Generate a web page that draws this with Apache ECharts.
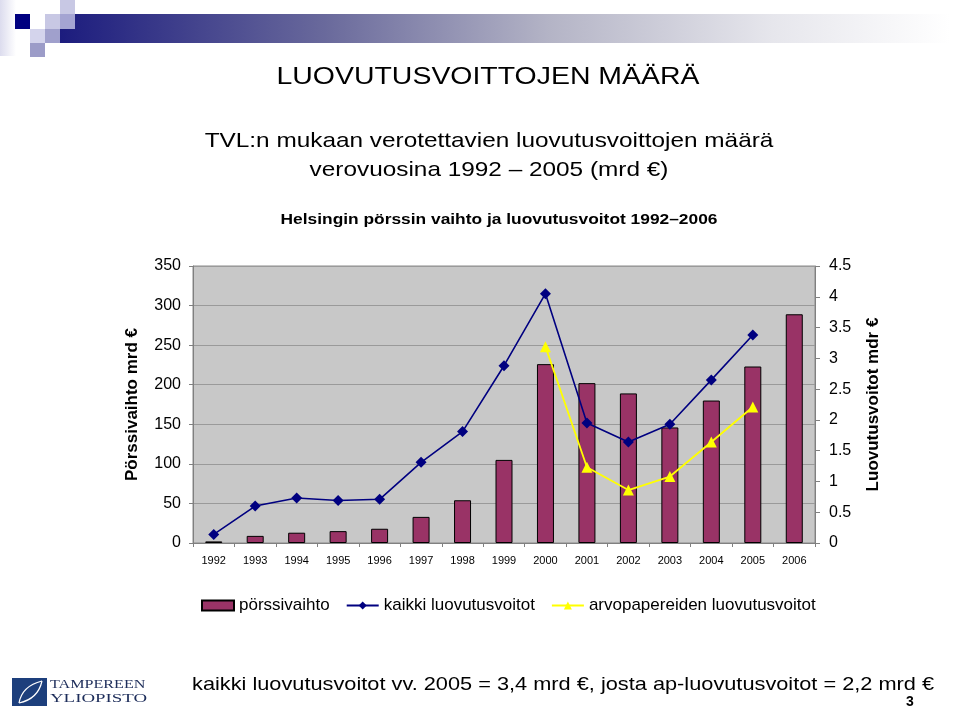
<!DOCTYPE html>
<html>
<head>
<meta charset="utf-8">
<script src="https://cdn.jsdelivr.net/npm/echarts@6/dist/echarts.min.js"></script>
<style>html,body{margin:0;padding:0;background:#fff;}#c{width:960px;height:708px;}</style>
</head>
<body>
<div id="c"></div>
<script>
const years = ['1992','1993','1994','1995','1996','1997','1998','1999','2000','2001','2002','2003','2004','2005','2006'];
const porssivaihto = [2, 9, 13, 15, 18, 33, 54, 105, 226, 202, 189, 146, 180, 223, 289];
const kaikkiLuovutusvoitot = [0.14, 0.60, 0.73, 0.69, 0.71, 1.31, 1.81, 2.88, 4.05, 1.95, 1.64, 1.93, 2.65, 3.38, null];
const arvopapereidenLuovutusvoitot = [null, null, null, null, null, null, null, null, 3.19, 1.23, 0.86, 1.08, 1.64, 2.21, null];
const leftAxis = {min: 0, max: 350, interval: 50};
const rightAxis = {min: 0, max: 4.5, interval: 0.5};

const FONT = 'Liberation Sans, Arial, sans-serif';
function txt(text, x, y, size, opts) {
  opts = opts || {};
  return {
    type: 'text', x: x, y: y, scaleX: opts.scaleX || 1, z: 10,
    style: {
      text: text, fontSize: size, fontFamily: opts.family || FONT,
      fontWeight: opts.weight || 'normal', fill: opts.fill || '#000',
      align: opts.align || 'center', verticalAlign: 'middle',
      textAlign: opts.align || 'center', textVerticalAlign: 'middle'
    }
  };
}
function sq(x, y, w, h, c) {
  return {type: 'rect', shape: {x: x, y: y, width: w, height: h}, style: {fill: c}, z: 5};
}

const chart = echarts.init(document.getElementById('c'));
chart.setOption({
  animation: false,
  backgroundColor: '#fff',
  textStyle: {fontFamily: FONT},
  graphic: {elements: [
    {type: 'rect', shape: {x: 60, y: 14, width: 890, height: 29}, z: 1,
      style: {fill: new echarts.graphic.LinearGradient(0, 0, 1, 0, [
        {offset: 0, color: '#1c1c7e'}, {offset: 0.3, color: '#6a6a9c'},
        {offset: 0.55, color: '#b4b4c6'}, {offset: 0.8, color: '#e6e6ec'}, {offset: 1, color: '#ffffff'}])}},
    {type: 'rect', shape: {x: 0, y: 0, width: 16, height: 56}, z: 2,
      style: {fill: new echarts.graphic.LinearGradient(0, 0, 1, 0, [
        {offset: 0, color: '#dcdcee'}, {offset: 1, color: '#ffffff'}])}},
    sq(15, 14, 15, 15, '#000080'),
    sq(45, 14, 15, 15, '#c8c8e4'),
    sq(60, 0, 15, 14, '#c8c8e4'),
    sq(60, 14, 15, 15, '#a4a4d2'),
    sq(30, 29, 15, 14, '#d4d4ec'),
    sq(45, 29, 15, 14, '#a0a0cc'),
    sq(30, 43, 15, 14, '#9c9cc8'),
    txt('LUOVUTUSVOITTOJEN MÄÄRÄ', 488, 77, 24, {scaleX: 1.185}),
    txt('TVL:n mukaan verotettavien luovutusvoittojen määrä', 489, 141, 21, {scaleX: 1.16}),
    txt('verovuosina 1992 – 2005 (mrd €)', 489, 170, 21, {scaleX: 1.16}),
    txt('Helsingin pörssin vaihto ja luovutusvoitot 1992–2006', 499, 220, 15, {scaleX: 1.157, weight: 'bold'}),
    txt('kaikki luovutusvoitot vv. 2005 = 3,4 mrd €, josta ap-luovutusvoitot = 2,2 mrd €', 192, 685, 19, {scaleX: 1.145, align: 'left'}),
    txt('3', 910, 702, 14, {weight: 'bold'}),
    sq(12, 678, 35, 28, '#1d3f7c'),
    {type: 'bezierCurve', z: 6, shape: {x1: 19, y1: 703, x2: 42, y2: 681, cpx1: 22, cpy1: 686},
      style: {stroke: '#fff', lineWidth: 1.2, fill: null}},
    {type: 'bezierCurve', z: 6, shape: {x1: 19, y1: 703, x2: 42, y2: 681, cpx1: 38, cpy1: 699},
      style: {stroke: '#fff', lineWidth: 1.2, fill: null}},
    txt('TAMPEREEN', 50, 685, 13, {scaleX: 1.24, align: 'left', family: 'Liberation Serif, serif', fill: '#1d2d5a'}),
    txt('YLIOPISTO', 50, 699, 13, {scaleX: 1.45, align: 'left', family: 'Liberation Serif, serif', fill: '#1d2d5a'})
  ]},
  grid: {left: 193, right: 145, top: 266, bottom: 165, show: true,
    backgroundColor: '#c8c8c8', borderColor: '#8a8a8a', borderWidth: 1},
  legend: {
    left: 196, top: 592, itemWidth: 32, itemHeight: 10, itemGap: 16,
    textStyle: {fontSize: 17, color: '#000', fontFamily: FONT},
    data: [
      {name: 'pörssivaihto', icon: 'rect'},
      {name: 'kaikki luovutusvoitot'},
      {name: 'arvopapereiden luovutusvoitot'}
    ]
  },
  xAxis: {
    type: 'category', data: years,
    axisLine: {lineStyle: {color: '#808080'}},
    axisTick: {show: true, length: 4, lineStyle: {color: '#808080'}},
    axisLabel: {fontSize: 11, color: '#000', margin: 12}
  },
  yAxis: [
    {type: 'value', min: leftAxis.min, max: leftAxis.max, interval: leftAxis.interval,
      name: 'Pörssivaihto mrd €', nameLocation: 'middle', nameRotate: 90, nameGap: 52,
      nameTextStyle: {fontSize: 17, fontWeight: 'bold', color: '#000'},
      axisLine: {show: true, lineStyle: {color: '#808080'}},
      axisTick: {show: true, length: 4, lineStyle: {color: '#808080'}},
      axisLabel: {fontSize: 16, color: '#000', margin: 12},
      splitLine: {show: true, lineStyle: {color: '#9a9a9a', width: 1}}},
    {type: 'value', min: rightAxis.min, max: rightAxis.max, interval: rightAxis.interval,
      position: 'right',
      name: 'Luovutusvoitot mdr €', nameLocation: 'middle', nameRotate: 90, nameGap: 50,
      nameTextStyle: {fontSize: 17, fontWeight: 'bold', color: '#000'},
      axisLine: {show: true, lineStyle: {color: '#808080'}},
      axisTick: {show: true, length: 5, lineStyle: {color: '#808080'}},
      axisLabel: {fontSize: 16, color: '#000', margin: 14},
      splitLine: {show: false}}
  ],
  series: [
    {name: 'pörssivaihto', type: 'bar', yAxisIndex: 0, data: porssivaihto, barWidth: 17,
      itemStyle: {color: '#993366', borderColor: '#000', borderWidth: 1}},
    {name: 'kaikki luovutusvoitot', type: 'line', yAxisIndex: 1, data: kaikkiLuovutusvoitot,
      symbol: 'diamond', symbolSize: 11, showAllSymbol: true,
      lineStyle: {color: '#000080', width: 1.6}, itemStyle: {color: '#000080'}},
    {name: 'arvopapereiden luovutusvoitot', type: 'line', yAxisIndex: 1, data: arvopapereidenLuovutusvoitot,
      symbol: 'triangle', symbolSize: 11, showAllSymbol: true,
      lineStyle: {color: '#ffff00', width: 1.8}, itemStyle: {color: '#ffff00'}}
  ]
});
</script>
</body>
</html>
